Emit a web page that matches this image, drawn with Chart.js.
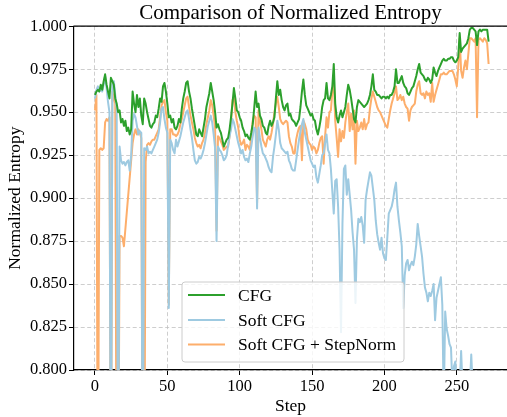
<!DOCTYPE html>
<html>
<head>
<meta charset="utf-8">
<script src="https://cdn.jsdelivr.net/npm/chart.js@4/dist/chart.umd.min.js"></script>
<style>
  html, body { margin: 0; padding: 0; background: #fff; }
  #wrap { width: 507px; height: 417px; }
</style>
</head>
<body>
<div id="wrap"><canvas id="chart"></canvas></div>
<script>
// CFG
const cfg = [
  0.960, 0.962, 0.963, 0.962, 0.966, 0.963, 0.968, 0.972, 0.966, 0.962,
  0.958, 0.970, 0.968, 0.966, 0.958, 0.955, 0.950, 0.951, 0.944, 0.946,
  0.942, 0.945, 0.939, 0.941, 0.937, 0.940, 0.962, 0.955, 0.950, 0.960,
  0.953, 0.958, 0.948, 0.943, 0.958, 0.955, 0.950, 0.946, 0.942, 0.941,
  0.943, 0.944, 0.948, 0.947, 0.952, 0.958, 0.956, 0.965, 0.967, 0.962,
  0.955, 0.947, 0.948, 0.944, 0.946, 0.941, 0.940, 0.942, 0.946, 0.944,
  0.952, 0.958, 0.962, 0.967, 0.968, 0.962, 0.958, 0.952, 0.947, 0.942,
  0.937, 0.936, 0.940, 0.938, 0.936, 0.941, 0.946, 0.953, 0.957, 0.961,
  0.967, 0.962, 0.957, 0.950, 0.941, 0.943, 0.940, 0.938, 0.934, 0.930,
  0.932, 0.934, 0.935, 0.940, 0.947, 0.955, 0.964, 0.958, 0.951, 0.950,
  0.947, 0.945, 0.941, 0.939, 0.936, 0.937, 0.935, 0.934, 0.938, 0.943,
  0.952, 0.962, 0.953, 0.955, 0.948, 0.946, 0.942, 0.941, 0.938, 0.937,
  0.942, 0.945, 0.942, 0.944, 0.947, 0.958, 0.968, 0.960, 0.963, 0.957,
  0.953, 0.951, 0.954, 0.955, 0.948, 0.949, 0.946, 0.945, 0.944, 0.942,
  0.944, 0.946, 0.953, 0.962, 0.969, 0.960, 0.954, 0.952, 0.950, 0.948,
  0.949, 0.946, 0.945, 0.940, 0.937, 0.941, 0.946, 0.953, 0.957, 0.958,
  0.967, 0.958, 0.957, 0.960, 0.965, 0.978, 0.955, 0.947, 0.944, 0.948,
  0.951, 0.947, 0.950, 0.953, 0.960, 0.966, 0.963, 0.958, 0.952, 0.946,
  0.944, 0.953, 0.957, 0.956, 0.955, 0.954, 0.953, 0.954, 0.955, 0.957,
  0.960, 0.965, 0.972, 0.963, 0.962, 0.960, 0.960, 0.959, 0.958, 0.959,
  0.959, 0.958, 0.959, 0.958, 0.960, 0.960, 0.962, 0.965, 0.975, 0.967,
  0.967, 0.969, 0.971, 0.967, 0.965, 0.964, 0.961, 0.960, 0.962, 0.964,
  0.965, 0.968, 0.971, 0.975, 0.978, 0.973, 0.972, 0.971, 0.969, 0.968,
  0.970, 0.969, 0.967, 0.969, 0.976, 0.973, 0.971, 0.974, 0.976, 0.978,
  0.980, 0.981, 0.980, 0.980, 0.981, 0.981, 0.982, 0.982, 0.980, 0.979,
  0.980, 0.982, 0.996, 0.985, 0.987, 0.988, 0.989, 0.990, 0.993, 0.998,
  0.999, 0.999, 0.998, 0.997, 0.989, 0.997, 0.998, 0.997, 0.998, 0.998,
  0.998, 0.998, 0.991
];

// Soft CFG (values under 0.800 run off the bottom of the plot)
const softCfg = [
  0.958, 0.963, 0.965, 0.962, 0.964, 0.962, 0.966, 0.971, 0.964, 0.956,
  0.950, 0.700, 0.966, 0.968, 0.960, 0.952, 0.700, 0.930, 0.922, 0.920,
  0.921, 0.919, 0.921, 0.922, 0.916, 0.925, 0.945, 0.949, 0.947, 0.942,
  0.937, 0.939, 0.938, 0.700, 0.929, 0.928, 0.930, 0.926, 0.927, 0.926,
  0.928, 0.930, 0.932, 0.934, 0.938, 0.944, 0.952, 0.953, 0.946, 0.941,
  0.938, 0.836, 0.934, 0.932, 0.928, 0.926, 0.934, 0.930, 0.933, 0.936,
  0.940, 0.944, 0.947, 0.950, 0.951, 0.946, 0.940, 0.935, 0.928, 0.922,
  0.920, 0.921, 0.924, 0.923, 0.925, 0.928, 0.932, 0.937, 0.942, 0.945,
  0.948, 0.944, 0.937, 0.929, 0.875, 0.930, 0.928, 0.927, 0.925, 0.922,
  0.923, 0.925, 0.931, 0.936, 0.940, 0.946, 0.944, 0.940, 0.936, 0.932,
  0.929, 0.926, 0.928, 0.924, 0.922, 0.923, 0.921, 0.926, 0.930, 0.936,
  0.941, 0.940, 0.894, 0.941, 0.935, 0.930, 0.926, 0.925, 0.923, 0.921,
  0.918, 0.916, 0.915, 0.924, 0.930, 0.937, 0.945, 0.940, 0.932, 0.929,
  0.928, 0.927, 0.926, 0.927, 0.922, 0.920, 0.917, 0.916, 0.916, 0.922,
  0.928, 0.934, 0.939, 0.943, 0.946, 0.938, 0.934, 0.930, 0.926, 0.922,
  0.920, 0.918, 0.919, 0.912, 0.909, 0.914, 0.919, 0.925, 0.926, 0.932,
  0.937, 0.928, 0.926, 0.917, 0.904, 0.891, 0.910, 0.911, 0.895, 0.870,
  0.822, 0.885, 0.917, 0.919, 0.902, 0.911, 0.902, 0.893, 0.880, 0.870,
  0.839, 0.876, 0.888, 0.886, 0.889, 0.884, 0.874, 0.899, 0.905, 0.910,
  0.915, 0.913, 0.906, 0.899, 0.887, 0.879, 0.874, 0.870, 0.877, 0.868,
  0.865, 0.864, 0.877, 0.891, 0.893, 0.895, 0.899, 0.905, 0.909, 0.895,
  0.887, 0.880, 0.872, 0.836, 0.855, 0.862, 0.864, 0.858, 0.861, 0.863,
  0.861, 0.866, 0.873, 0.885, 0.878, 0.872, 0.866, 0.856, 0.848, 0.845,
  0.840, 0.845, 0.843, 0.846, 0.850, 0.829, 0.842, 0.846, 0.850, 0.854,
  0.838, 0.780, 0.834, 0.824, 0.820, 0.815, 0.813, 0.790, 0.802, 0.805,
  0.790, 0.780, 0.790, 0.811, 0.790, 0.780, 0.785, 0.790, 0.785, 0.790,
  0.809, 0.790, 0.780, 0.775, 0.770, 0.775, 0.770, 0.765, 0.770, 0.765,
  0.760, 0.765, 0.760
];

// Soft CFG + StepNorm (null = no point, line runs straight across)
const softStepNorm = [
  0.951, 0.960, 0.700, 0.928, 0.929, 0.928, 0.929, 0.944, 0.946, 0.945,
  0.947, 0.700, 0.962, 0.958, 0.955, 0.700, 0.700, 0.878, 0.878, 0.877,
  0.872, null, null, null, null, null, 0.932, 0.937, 0.940, 0.937,
  0.940, 0.938, 0.935, 0.700, 0.700, 0.921, 0.931, 0.932, 0.931, 0.933,
  0.934, 0.934, 0.936, 0.938, 0.940, 0.947, 0.954, 0.956, 0.957, 0.950,
  0.945, 0.838, 0.940, 0.940, 0.937, 0.937, 0.936, 0.937, 0.939, 0.943,
  0.946, 0.950, 0.954, 0.958, 0.959, 0.953, 0.948, 0.944, 0.940, 0.935,
  0.932, 0.930, 0.931, 0.929, 0.932, 0.934, 0.938, 0.943, 0.947, 0.951,
  0.957, 0.954, 0.948, 0.941, 0.881, 0.936, 0.935, 0.933, 0.931, 0.928,
  0.929, 0.930, 0.930, 0.936, 0.943, 0.957, 0.959, 0.950, 0.945, 0.941,
  0.934, 0.931, 0.932, 0.934, 0.928, 0.931, 0.930, 0.928, 0.937, 0.945,
  0.948, 0.947, 0.897, 0.951, 0.945, 0.940, 0.934, 0.932, 0.930, 0.934,
  0.936, 0.934, 0.938, 0.943, 0.950, 0.955, 0.959, 0.953, 0.946, 0.944,
  0.943, 0.944, 0.945, 0.944, 0.936, 0.932, 0.930, 0.926, 0.926, 0.934,
  0.938, 0.941, 0.942, 0.922, 0.945, 0.943, 0.940, 0.934, 0.932, 0.931,
  0.928, 0.930, 0.929, 0.926, 0.928, 0.932, 0.935, 0.936, 0.920, 0.936,
  0.947, 0.941, 0.950, 0.951, 0.962, 0.969, 0.945, 0.935, 0.924, 0.940,
  0.933, 0.939, 0.935, 0.944, 0.950, 0.955, 0.939, 0.949, 0.940, 0.951,
  0.920, 0.945, 0.939, 0.941, 0.944, 0.940, 0.946, 0.940, 0.943, 0.944,
  0.952, 0.958, 0.962, 0.959, 0.956, 0.953, 0.951, 0.950, 0.948, 0.946,
  0.944, 0.942, 0.941, 0.946, 0.951, 0.955, 0.958, 0.961, 0.965, 0.957,
  0.958, 0.960, 0.957, 0.959, 0.955, 0.953, 0.952, 0.945, 0.951, 0.953,
  0.954, 0.955, 0.962, 0.966, 0.968, 0.961, 0.960, 0.961, 0.958, 0.962,
  0.960, 0.961, 0.956, 0.967, 0.956, 0.960, 0.963, 0.966, 0.969, 0.972,
  0.972, 0.973, 0.972, 0.972, 0.973, 0.974, 0.974, 0.974, 0.972, 0.969,
  0.965, 0.976, 0.993, 0.974, 0.970, 0.976, 0.980, 0.975, 0.984, 0.993,
  0.993, 0.992, 0.991, 0.993, 0.947, 0.992, 0.993, 0.992, 0.991, 0.993,
  0.992, 0.990, 0.978
];

const steps = cfg.map((_, i) => i);
const xTicks = [0, 50, 100, 150, 200, 250];
const yTicks = [0.800, 0.825, 0.850, 0.875, 0.900, 0.925, 0.950, 0.975, 1.000];
const seriesNames = ["CFG", "Soft CFG", "Soft CFG + StepNorm"];
const seriesColors = ["#2ca02c", "#9ecae1", "#fdae6b"];

const FONT = "'Liberation Serif', 'Times New Roman', 'DejaVu Serif', serif";
Chart.defaults.font.family = FONT;
Chart.defaults.color = "#000";

function toPoints(values) {
  return values.map((v, i) => ({ x: steps[i], y: v }));
}

// 凡例と上側の枠線を描く
const legendBox = {
  id: "legendBox",
  afterDatasetsDraw(chart) {
    const { ctx, chartArea } = chart;
    ctx.save();
    ctx.strokeStyle = "#000";
    ctx.lineWidth = 1.2;
    ctx.beginPath();
    ctx.moveTo(chartArea.left - 0.6, chartArea.top);
    ctx.lineTo(chartArea.right, chartArea.top);
    ctx.stroke();

    const bx = 182, by = 282, bw = 222, bh = 80;
    ctx.beginPath();
    ctx.roundRect(bx, by, bw, bh, 3);
    ctx.fillStyle = "rgba(255,255,255,0.8)";
    ctx.fill();
    ctx.strokeStyle = "#cccccc";
    ctx.lineWidth = 1;
    ctx.stroke();

    const rows = [295, 320, 344.5];
    ctx.font = "17.5px " + FONT;
    ctx.textBaseline = "middle";
    ctx.textAlign = "left";
    chart.data.datasets.forEach((ds, i) => {
      ctx.strokeStyle = ds.borderColor;
      ctx.lineWidth = 2;
      ctx.beginPath();
      ctx.moveTo(188, rows[i]);
      ctx.lineTo(225, rows[i]);
      ctx.stroke();
      ctx.fillStyle = "#000";
      ctx.fillText(ds.label, 238, rows[i] + 1);
    });
    ctx.restore();
  },
};

const gridColor = "rgba(190,190,190,0.75)";

new Chart(document.getElementById("chart"), {
  type: "line",
  data: {
    datasets: [
      { label: seriesNames[0], data: toPoints(cfg), borderColor: seriesColors[0] },
      { label: seriesNames[1], data: toPoints(softCfg), borderColor: seriesColors[1] },
      { label: seriesNames[2], data: toPoints(softStepNorm), borderColor: seriesColors[2] },
    ],
  },
  options: {
    responsive: true,
    maintainAspectRatio: false,
    animation: false,
    spanGaps: true,
    elements: {
      point: { radius: 0 },
      line: { borderWidth: 2, tension: 0, borderJoinStyle: "round" },
    },
    layout: { padding: 0 },
    plugins: {
      legend: { display: false },
      tooltip: { enabled: false },
      title: {
        display: true,
        fullSize: false,
        text: "Comparison of Normalized Entropy",
        font: { size: 21, weight: "normal" },
        color: "#000",
        padding: { top: 1, bottom: 0 },
      },
    },
    scales: {
      x: {
        type: "linear",
        min: -14.5,
        max: 284.7,
        afterBuildTicks: (axis) => {
          axis.ticks = xTicks.map((v) => ({ value: v }));
        },
        afterFit: (axis) => {
          axis.height = 47;
        },
        ticks: {
          font: { size: 16.5 },
          color: "#000",
          padding: 2,
          maxRotation: 0,
          callback: (v) => String(v),
        },
        grid: {
          color: gridColor,
          lineWidth: 1,
          tickLength: 5,
          tickColor: "#000",
          tickWidth: 1,
        },
        border: { display: true, color: "#000", width: 1.2, dash: [4, 2.5] },
        title: {
          display: true,
          text: "Step",
          font: { size: 17.5 },
          color: "#000",
          padding: { top: 0, bottom: 0 },
        },
      },
      y: {
        min: 0.8,
        max: 1.0,
        afterBuildTicks: (axis) => {
          axis.ticks = yTicks.map((v) => ({ value: v }));
        },
        afterFit: (axis) => {
          axis.width = 74;
        },
        ticks: {
          font: { size: 16.5 },
          color: "#000",
          padding: 2,
          callback: (v) => Number(v).toFixed(3),
        },
        grid: {
          color: gridColor,
          lineWidth: 1,
          tickLength: 5,
          tickColor: "#000",
          tickWidth: 1,
        },
        border: { display: true, color: "#000", width: 1.2, dash: [4, 2.5] },
        title: {
          display: true,
          text: "Normalized Entropy",
          font: { size: 17.5 },
          color: "#000",
          padding: { top: 4.5, bottom: 0 },
        },
      },
    },
  },
  plugins: [legendBox],
});
</script>
</body>
</html>
